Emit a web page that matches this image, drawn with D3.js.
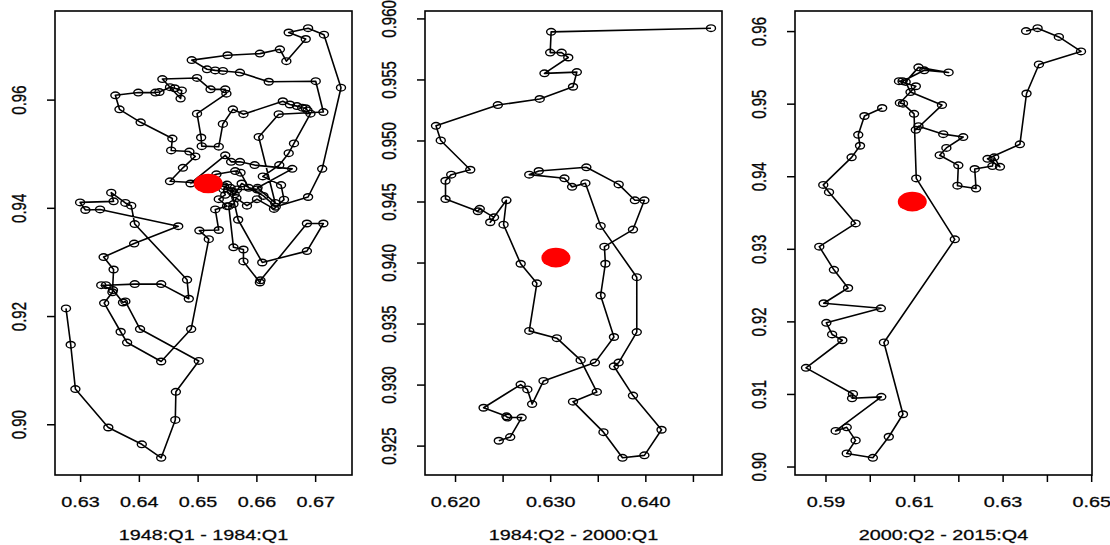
<!DOCTYPE html>
<html>
<head>
<meta charset="utf-8">
<script src="https://cdn.jsdelivr.net/npm/d3@7"></script>
<style>
  html, body { margin: 0; padding: 0; background: #fff; }
  svg { display: block; }
  text { font-family: "Liberation Sans", Arial, Helvetica, sans-serif; fill: #000; }
</style>
</head>
<body>
<svg id="chart" width="1110" height="545"></svg>
<script>
// ---------------- DATA ----------------
const titles = ["1948:Q1 - 1984:Q1", "1984:Q2 - 2000:Q1", "2000:Q2 - 2015:Q4"];

const p1x = [0.6276,0.6284,0.6292,0.6348,0.6405,0.6438,0.6462,0.6463,0.6502,0.6402,
  0.6377,0.6373,0.6356,0.6336,0.6344,0.6393,0.6438,0.6485,0.6482,0.6393,
  0.6387,0.6377,0.6353,0.6357,0.6300,0.6309,0.6334,0.6467,0.6392,0.6340,
  0.6357,0.6355,0.6341,0.6369,0.6380,0.6438,0.6489,0.6519,0.6503,0.6536,
  0.6530,0.6550,0.6536,0.6547,0.6544,0.6550,0.6453,0.6475,0.6496,0.6486,
  0.6455,0.6457,0.6403,0.6367,0.6360,0.6399,0.6428,0.6435,0.6453,0.6461,
  0.6473,0.6471,0.6440,0.6499,0.6522,0.6547,0.6549,0.6499,0.6506,0.6507,
  0.6536,0.6543,0.6560,0.6578,0.6645,0.6657,0.6669,0.6678,0.6684,0.6687,
  0.6692,0.6664,0.6655,0.6639,0.6611,0.6642,0.6647,0.6630,0.6601,0.6584,
  0.6566,0.6561,0.6553,0.6561,0.6578,0.6578,0.6606,0.6607,0.6686,0.6714,
  0.6686,0.6610,0.6569,0.6558,0.6556,0.6567,0.6601,0.6587,0.6573,0.6564,
  0.6532,0.6488,0.6547,0.6557,0.6572,0.6597,0.6661,0.6602,0.6632,0.6604,
  0.6638,0.6714,0.6701,0.6621,0.6572,0.6543,0.6530,0.6516,0.6490,0.6551,
  0.6606,0.6640,0.6651,0.6684,0.6655,0.6688,0.6715,0.6744,0.6712,0.6688,
  0.6633,0.6612,0.6575,0.6563,0.6545];
const p1y = [0.9214,0.9147,0.9065,0.8994,0.8963,0.8938,0.9008,0.9060,0.9117,0.9176,
  0.9227,0.9225,0.9248,0.9257,0.9257,0.9259,0.9259,0.9232,0.9267,0.9370,
  0.9404,0.9409,0.9428,0.9412,0.9410,0.9396,0.9397,0.9366,0.9334,0.9309,
  0.9286,0.9244,0.9224,0.9171,0.9151,0.9116,0.9176,0.9342,0.9358,0.9359,
  0.9397,0.9403,0.9416,0.9424,0.9434,0.9443,0.9449,0.9474,0.9495,0.9504,
  0.9506,0.9528,0.9558,0.9582,0.9608,0.9613,0.9613,0.9614,0.9623,0.9621,
  0.9617,0.9602,0.9638,0.9640,0.9619,0.9619,0.9611,0.9574,0.9530,0.9514,
  0.9513,0.9555,0.9582,0.9573,0.9597,0.9591,0.9588,0.9585,0.9584,0.9580,
  0.9574,0.9519,0.9501,0.9479,0.9458,0.9442,0.9415,0.9398,0.9416,0.9404,
  0.9418,0.9407,0.9403,0.9327,0.9323,0.9301,0.9262,0.9266,0.9371,0.9371,
  0.9320,0.9299,0.9378,0.9430,0.9437,0.9434,0.9434,0.9437,0.9465,0.9468,
  0.9462,0.9445,0.9497,0.9485,0.9485,0.9479,0.9472,0.9437,0.9409,0.9531,
  0.9573,0.9577,0.9634,0.9633,0.9650,0.9653,0.9654,0.9656,0.9673,0.9682,
  0.9685,0.9693,0.9671,0.9712,0.9724,0.9732,0.9720,0.9622,0.9472,0.9420,
  0.9402,0.9422,0.9445,0.9425,0.9440];

const p2x = [0.6246,0.6258,0.6270,0.6255,0.6254,0.6230,0.6269,0.6276,0.6281,0.6293,
  0.6347,0.6367,0.6353,0.6358,0.6357,0.6387,0.6399,0.6389,0.6372,0.6338,
  0.6288,0.6278,0.6315,0.6323,0.6337,0.6353,0.6391,0.6391,0.6372,0.6367,
  0.6387,0.6417,0.6399,0.6376,0.6356,0.6324,0.6349,0.6332,0.6307,0.6278,
  0.6286,0.6269,0.6251,0.6254,0.6237,0.6241,0.6226,0.6224,0.6190,0.6190,
  0.6196,0.6216,0.6185,0.6180,0.6245,0.6289,0.6324,0.6328,0.6294,0.6319,
  0.6312,0.6300,0.6301,0.6469];
const p2y = [0.9254,0.9257,0.9273,0.9273,0.9274,0.9281,0.9300,0.9296,0.9284,0.9303,
  0.9318,0.9339,0.9373,0.9399,0.9413,0.9427,0.9451,0.9451,0.9464,0.9478,
  0.9475,0.9472,0.9469,0.9462,0.9465,0.9430,0.9388,0.9343,0.9318,0.9315,
  0.9291,0.9263,0.9242,0.9240,0.9261,0.9286,0.9294,0.9320,0.9338,0.9344,
  0.9383,0.9399,0.9431,0.9451,0.9433,0.9437,0.9444,0.9442,0.9452,0.9467,
  0.9472,0.9476,0.9500,0.9512,0.9529,0.9534,0.9544,0.9556,0.9555,0.9568,
  0.9572,0.9572,0.9589,0.9592];

const p3x = [0.6353,0.6379,0.6427,0.6477,0.6382,0.6354,0.6339,0.6266,0.6294,0.6281,
  0.6277,0.6237,0.6240,0.6198,0.6200,0.6158,0.6173,0.6211,0.6166,0.6110,
  0.6104,0.6163,0.6092,0.6081,0.6110,0.6178,0.6123,0.6074,0.6066,0.6104,
  0.6068,0.6075,0.6100,0.6105,0.6192,0.6032,0.6075,0.6043,0.6007,0.5948,
  0.5968,0.5948,0.5923,0.6026,0.5960,0.5962,0.5856,0.5938,0.5915,0.5902,
  0.6025,0.5896,0.5951,0.5919,0.5886,0.5968,0.5908,0.5895,0.5959,0.5978,
  0.5974,0.5988,0.6028];
const p3y = [0.9600,0.9604,0.9592,0.9572,0.9554,0.9514,0.9444,0.9424,0.9413,0.9426,
  0.9414,0.9410,0.9383,0.9387,0.9415,0.9429,0.9439,0.9454,0.9458,0.9469,
  0.9464,0.9498,0.9516,0.9530,0.9550,0.9543,0.9546,0.9531,0.9531,0.9524,
  0.9501,0.9500,0.9486,0.9397,0.9313,0.9171,0.9072,0.9041,0.9012,0.9018,
  0.9036,0.9054,0.9049,0.9096,0.9094,0.9100,0.9136,0.9174,0.9182,0.9198,
  0.9218,0.9225,0.9246,0.9271,0.9303,0.9335,0.9378,0.9388,0.9426,0.9442,
  0.9457,0.9483,0.9494];

const meanX = [0.6518, 0.6306, 0.6096];
const meanY = [0.9445, 0.9404, 0.9365];

const xTicks1 = [0.63, 0.64, 0.65, 0.66, 0.67];
const xLabels1 = ["0.63", "0.64", "0.65", "0.66", "0.67"];
const xTicks2 = [0.620, 0.625, 0.630, 0.635, 0.640, 0.645];
const xLabels2 = ["0.620", "", "0.630", "", "0.640", ""];
const xTicks3 = [0.59, 0.60, 0.61, 0.62, 0.63, 0.64, 0.65];
const xLabels3 = ["0.59", "", "0.61", "", "0.63", "", "0.65"];
const yTicks1 = [0.90, 0.92, 0.94, 0.96];
const yLabels1 = ["0.90", "0.92", "0.94", "0.96"];
const yTicks2 = [0.925, 0.930, 0.935, 0.940, 0.945, 0.950, 0.955, 0.960];
const yLabels2 = ["0.925", "0.930", "0.935", "0.940", "0.945", "0.950", "0.955", "0.960"];
const yTicks3 = [0.90, 0.91, 0.92, 0.93, 0.94, 0.95, 0.96];
const yLabels3 = ["0.90", "0.91", "0.92", "0.93", "0.94", "0.95", "0.96"];

// ---------------- LAYOUT ----------------
const panels = [
  { xs: p1x, ys: p1y, xt: xTicks1, xl: xLabels1, yt: yTicks1, yl: yLabels1 },
  { xs: p2x, ys: p2y, xt: xTicks2, xl: xLabels2, yt: yTicks2, yl: yLabels2 },
  { xs: p3x, ys: p3y, xt: xTicks3, xl: xLabels3, yt: yTicks3, yl: yLabels3 }
];
const panelW = 370, boxLeft = 55, boxW = 297, boxTop = 11, boxBottom = 475;
const SX = 1.32;          // horizontal stretch of the original rendering
const FS = 15;

function rExtent(arr) {
  const [a, b] = d3.extent(arr);
  const pad = (b - a) * 0.04;
  return [a - pad, b + pad];
}

function styleText(sel) {
  sel.attr("text-anchor", "middle")
    .style("font-size", FS + "px")
    .style("font-family", "'Liberation Sans', Arial, sans-serif")
    .attr("fill", "#222")
    .attr("stroke", "#222")
    .attr("stroke-width", 0.3);
}

const svg = d3.select("#chart");
svg.append("rect").attr("width", 1110).attr("height", 545).attr("fill", "#fff");

panels.forEach((p, i) => {
  const left = i * panelW + boxLeft;
  const x = d3.scaleLinear().domain(rExtent(p.xs)).range([left, left + boxW]);
  const y = d3.scaleLinear().domain(rExtent(p.ys)).range([boxBottom, boxTop]);
  const g = svg.append("g");

  // x axis
  const xa = g.append("g").attr("transform", `translate(0,${boxBottom})`)
    .call(d3.axisBottom(x).tickValues(p.xt).tickSize(7).tickSizeOuter(0)
      .tickFormat((d, k) => p.xl[k]));
  xa.select(".domain").remove();
  xa.selectAll(".tick line").attr("stroke", "#000").attr("stroke-width", 1.5);
  xa.selectAll(".tick text")
    .attr("y", null).attr("dy", null)
    .attr("transform", `translate(0,32) scale(${SX},1)`)
    .call(styleText);

  // y axis
  const ya = g.append("g").attr("transform", `translate(${left},0)`)
    .call(d3.axisLeft(y).tickValues(p.yt).tickSize(8).tickSizeOuter(0)
      .tickFormat((d, k) => p.yl[k]));
  ya.select(".domain").remove();
  ya.selectAll(".tick line").attr("stroke", "#000").attr("stroke-width", 1.5);
  ya.selectAll(".tick text")
    .attr("x", null).attr("dy", null)
    .attr("transform", `translate(-29,0) scale(${SX},1) rotate(-90)`)
    .call(styleText);

  // title under axis
  g.append("text")
    .attr("transform", `translate(${left + boxW / 2},540) scale(${SX},1)`)
    .call(styleText)
    .text(titles[i]);

  // path
  const pts = p.xs.map((v, k) => [v, p.ys[k]]);
  const line = d3.line().x(d => x(d[0])).y(d => y(d[1]));
  g.append("path").datum(pts).attr("d", line)
    .attr("fill", "none").attr("stroke", "#000").attr("stroke-width", 1.6)
    .attr("stroke-linejoin", "round");

  g.selectAll("ellipse.pt").data(pts).enter().append("ellipse")
    .attr("class", "pt")
    .attr("cx", d => x(d[0])).attr("cy", d => y(d[1]))
    .attr("rx", 4.5).attr("ry", 3.3)
    .attr("fill", "none").attr("stroke", "#000").attr("stroke-width", 1.4);

  // mean point
  g.append("ellipse")
    .attr("cx", x(meanX[i])).attr("cy", y(meanY[i]))
    .attr("rx", 14.5).attr("ry", 9.8)
    .attr("fill", "#ff0000");

  // box
  g.append("rect")
    .attr("x", left).attr("y", boxTop).attr("width", boxW).attr("height", boxBottom - boxTop)
    .attr("fill", "none").attr("stroke", "#000").attr("stroke-width", 1.6);
});
</script>
</body>
</html>
